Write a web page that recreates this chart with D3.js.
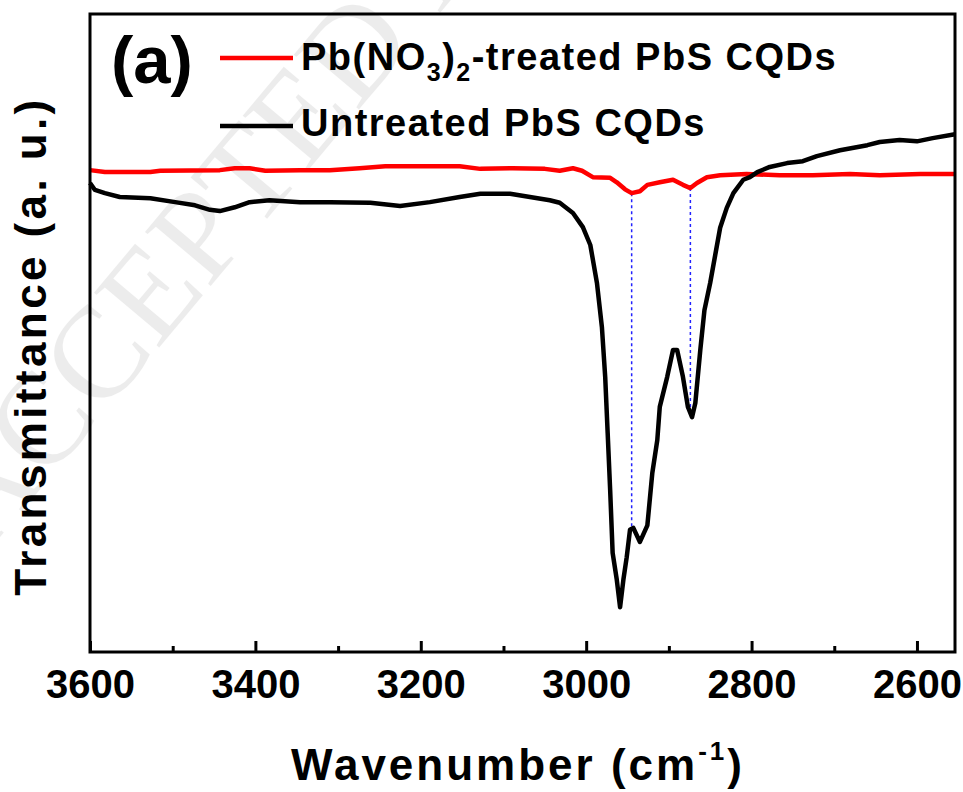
<!DOCTYPE html>
<html>
<head>
<meta charset="utf-8">
<script src="https://cdn.jsdelivr.net/npm/d3@7"></script>
<style>
  body { margin: 0; background: #fff; }
  text { font-family: Arial, "Liberation Sans", sans-serif; }
</style>
</head>
<body>
<div class="chart"></div>
<script>
const WIDTH = 963;
const HEIGHT = 792;

// wavenumber (cm-1) and transmittance (a. u.)
var untreatedWn = [3600, 3594, 3582, 3564, 3527, 3497, 3473, 3455, 3443, 3425, 3407, 3383, 3346, 3310, 3261, 3225, 3189, 3153, 3128, 3092, 3068, 3044, 3032, 3016, 3004, 2995, 2987, 2981, 2977, 2974, 2971, 2968, 2963, 2959, 2955, 2951, 2947, 2943, 2935, 2926, 2920, 2914, 2911, 2902, 2895, 2890, 2883, 2877, 2872, 2868, 2862, 2857, 2850, 2844, 2838, 2830, 2822, 2810, 2802, 2793, 2778, 2757, 2738, 2721, 2693, 2660, 2645, 2621, 2600, 2581, 2554];
var untreatedT = [73.3, 72.2, 71.7, 71.1, 70.9, 70.3, 69.8, 69.1, 68.9, 69.5, 70.3, 70.6, 70.3, 70.3, 70.2, 69.7, 70.3, 71.1, 71.6, 71.6, 71.1, 70.6, 70.2, 68.6, 66.4, 63.6, 57.7, 50.8, 43.0, 34.2, 25.3, 15.5, 11.3, 7.0, 11.3, 14.8, 19.1, 19.4, 17.2, 19.8, 28.0, 33.1, 38.3, 43.0, 47.2, 47.2, 43.0, 38.3, 36.7, 38.9, 47.2, 53.4, 57.7, 62.0, 66.3, 69.4, 71.7, 73.8, 74.2, 75.0, 75.8, 76.4, 76.7, 77.5, 78.4, 79.2, 79.7, 80.0, 79.8, 80.3, 80.9];

var treatedWn = [3600, 3582, 3527, 3515, 3443, 3425, 3407, 3388, 3346, 3310, 3274, 3243, 3189, 3153, 3128, 3089, 3050, 3032, 3016, 3005, 2992, 2971, 2963, 2953, 2945, 2935, 2926, 2911, 2895, 2883, 2874, 2866, 2854, 2838, 2806, 2766, 2726, 2681, 2645, 2596, 2554];
var treatedT = [75.3, 75.0, 75.0, 75.2, 75.3, 75.6, 75.6, 75.2, 75.3, 75.3, 75.6, 75.9, 75.9, 75.9, 75.5, 75.6, 75.5, 75.2, 75.6, 75.2, 74.2, 74.1, 73.4, 72.3, 71.7, 72.0, 73.0, 73.4, 73.8, 73.0, 72.5, 73.3, 74.2, 74.5, 74.7, 74.5, 74.5, 74.7, 74.5, 74.7, 74.7];

// blue dotted guides linking the peaks
var guideWn = [2945, 2874];
var guideTop = [71.7, 72.5];
var guideBottom = [19.4, 38.3];

var majorTicks = [3600, 3400, 3200, 3000, 2800, 2600];
var minorTicks = [3500, 3300, 3100, 2900, 2700];

var seriesNames = ["Pb(NO3)2-treated PbS CQDs", "Untreated PbS CQDs"];
var seriesColors = ["#ff0000", "#000000"];

var svg = d3.select('.chart').append('svg')
    .attr('width', WIDTH)
    .attr('height', HEIGHT);

// faint watermark
svg.append('text')
    .attr('transform', 'translate(-15,555) rotate(-50)')
    .style('font-family', '"Liberation Serif", serif')
    .style('font-size', '130px')
    .style('fill', '#000')
    .style('opacity', 0.07)
    .text('ACCEPTED MANUSCRIPT');

var x = d3.scaleLinear().domain([3600, 2554]).range([90, 955]);
var y = d3.scaleLinear().domain([0, 99.7]).range([652, 14]);

var line = d3.line()
    .x(function (d) { return x(d[0]); })
    .y(function (d) { return y(d[1]); });

// guides
guideWn.forEach(function (w, i) {
    svg.append('line')
        .attr('x1', x(w)).attr('x2', x(w))
        .attr('y1', y(guideTop[i])).attr('y2', y(guideBottom[i]))
        .attr('stroke', '#2222ff')
        .attr('stroke-width', 1.5)
        .attr('stroke-dasharray', '3,3');
});

svg.append('path')
    .datum(d3.zip(treatedWn, treatedT))
    .attr('d', line)
    .attr('fill', 'none')
    .attr('stroke', seriesColors[0])
    .attr('stroke-width', 4.5)
    .attr('stroke-linejoin', 'round');

svg.append('path')
    .datum(d3.zip(untreatedWn, untreatedT))
    .attr('d', line)
    .attr('fill', 'none')
    .attr('stroke', seriesColors[1])
    .attr('stroke-width', 4.5)
    .attr('stroke-linejoin', 'round');

// frame
svg.append('rect')
    .attr('x', x.range()[0]).attr('y', y.range()[1])
    .attr('width', x.range()[1] - x.range()[0])
    .attr('height', y.range()[0] - y.range()[1])
    .attr('fill', 'none')
    .attr('stroke', '#000')
    .attr('stroke-width', 3);

var xAxis = svg.append('g')
    .attr('transform', 'translate(0,' + y.range()[0] + ')')
    .call(d3.axisBottom(x).tickValues(majorTicks).tickSize(-11).tickPadding(18).tickFormat(d3.format('d')));
xAxis.select('.domain').remove();
xAxis.selectAll('line').attr('stroke-width', 3);
xAxis.selectAll('text')
    .style('font-size', '40px')
    .style('font-weight', 'bold')
    .style('fill', '#000');

var xMinor = svg.append('g')
    .attr('transform', 'translate(0,' + y.range()[0] + ')')
    .call(d3.axisBottom(x).tickValues(minorTicks).tickSize(-6).tickFormat(''));
xMinor.select('.domain').remove();
xMinor.selectAll('line').attr('stroke-width', 3);

// axis titles
var xt = svg.append('text')
    .attr('x', 518).attr('y', 780)
    .attr('text-anchor', 'middle')
    .style('font-size', '44px')
    .style('font-weight', 'bold')
    .style('letter-spacing', '3px');
xt.append('tspan').text('Wavenumber (cm');
xt.append('tspan').attr('dy', -20).style('font-size', '26px').text('-1');
xt.append('tspan').attr('dy', 20).text(')');

svg.append('text')
    .attr('transform', 'translate(46,346) rotate(-90)')
    .attr('text-anchor', 'middle')
    .style('font-size', '44px')
    .style('font-weight', 'bold')
    .style('letter-spacing', '3.4px')
    .text('Transmittance (a. u.)');

// panel label
svg.append('text')
    .attr('x', 111).attr('y', 83)
    .style('font-size', '67px')
    .style('font-weight', 'bold')
    .text('(a)');

// legend
var legendY = [58, 126];
var l0 = svg.append('text')
    .attr('x', 301).attr('y', 70)
    .style('font-size', '38px')
    .style('font-weight', 'bold')
    .style('letter-spacing', '1.5px');
l0.append('tspan').text('Pb(NO');
l0.append('tspan').attr('dy', 11).style('font-size', '25px').text('3');
l0.append('tspan').attr('dy', -11).text(')');
l0.append('tspan').attr('dy', 11).style('font-size', '25px').text('2');
l0.append('tspan').attr('dy', -11).text('-treated PbS CQDs');

svg.append('text')
    .attr('x', 301).attr('y', 136)
    .style('font-size', '38px')
    .style('font-weight', 'bold')
    .style('letter-spacing', '1.5px')
    .text(seriesNames[1]);

legendY.forEach(function (ly, i) {
    svg.append('line')
        .attr('x1', 220).attr('x2', 293)
        .attr('y1', ly).attr('y2', ly)
        .attr('stroke', seriesColors[i])
        .attr('stroke-width', 4.5);
});
</script>
</body>
</html>
